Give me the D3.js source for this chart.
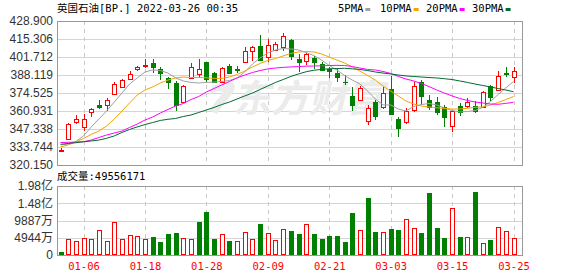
<!DOCTYPE html>
<html>
<head>
<meta charset="utf-8">
<script src="https://cdn.jsdelivr.net/npm/d3@7/dist/d3.min.js"></script>
<style>
  body { margin: 0; background: #fff; }
  svg { display: block; }
</style>
</head>
<body>
<div id="chart"></div>
<script>
// trading days shown on the chart
var dates = ["12-31","01-04","01-05","01-06","01-07","01-10","01-11","01-12","01-13","01-14",
             "01-17","01-18","01-19","01-20","01-21","01-24","01-25","01-26","01-27","01-28",
             "01-31","02-01","02-02","02-03","02-04","02-07","02-08","02-09","02-10","02-11",
             "02-14","02-15","02-16","02-17","02-18","02-21","02-22","02-23","02-24","02-25",
             "02-28","03-01","03-02","03-03","03-04","03-07","03-08","03-09","03-10","03-11",
             "03-14","03-15","03-16","03-17","03-18","03-21","03-22","03-23","03-24","03-25"];

var opens  = [331.1,339.8,352.6,349.1,359.9,365.2,365.2,373.5,379.3,384.9,
              392.4,395.1,397.0,392.4,385.6,382.1,368.0,386.1,388.6,397.9,
              389.3,383.1,395.1,392.7,397.9,406.5,410.0,401.7,407.0,409.6,
              414.6,400.2,398.7,401.3,396.2,392.3,389.3,383.2,372.3,368.9,
              353.4,368.0,363.6,377.5,354.9,352.9,361.7,383.2,369.2,367.5,
              364.0,349.4,364.7,364.7,364.7,363.7,379.8,376.8,389.3,386.4];
var highs  = [332.8,351.6,357.9,358.4,363.0,369.0,371.0,383.1,384.9,391.1,
              395.1,400.2,400.2,394.4,386.8,383.6,380.2,397.4,400.0,398.2,
              390.6,393.9,396.2,395.1,409.5,410.0,418.3,415.3,413.0,419.6,
              415.3,404.0,404.7,402.7,397.9,394.4,393.2,388.1,378.7,379.8,
              365.8,369.2,379.3,387.4,356.6,362.9,383.1,384.3,373.0,371.7,
              365.5,361.7,367.2,370.5,368.5,376.0,380.6,391.1,393.9,393.9];
var lows   = [329.7,339.0,351.1,345.8,356.6,362.2,360.9,373.0,378.8,384.3,
              391.1,393.2,389.4,384.3,377.3,360.9,367.7,385.6,385.6,383.1,
              382.3,382.6,389.4,389.4,397.6,398.7,398.7,397.6,406.2,406.6,
              399.1,390.4,395.7,392.7,391.5,385.6,383.1,380.6,361.3,368.5,
              350.0,354.1,362.8,358.7,341.5,351.1,360.4,365.5,361.7,357.9,
              349.1,344.7,357.4,362.9,359.2,363.2,368.5,375.7,386.8,382.1];
var closes = [331.6,351.1,354.7,355.0,362.2,363.7,369.0,381.6,384.1,388.6,
              394.2,395.7,393.9,389.4,383.1,365.1,379.8,393.9,392.4,385.1,
              383.1,393.2,389.9,391.9,405.9,409.3,399.8,410.8,411.5,417.2,
              402.5,397.6,404.2,398.3,391.9,391.5,386.8,382.8,365.5,378.3,
              363.0,357.2,374.3,358.9,348.3,361.2,379.8,372.3,363.6,360.4,
              356.6,360.9,360.2,368.0,361.1,375.1,371.7,387.7,388.7,391.4];
var closeBefore = 333.0;   // close of the day before the first bar (volume colour)

var volumes = [8600000,46600000,39000000,49500000,46600000,70400000,39000000,96000000,46600000,58000000,
               55200000,46600000,50400000,37100000,59000000,61800000,49500000,46600000,94100000,122700000,
               44700000,60900000,40000000,39000000,64700000,46600000,88400000,61800000,43700000,73200000,
               67500000,59000000,87500000,59000000,44700000,53300000,53300000,36100000,121700000,72300000,
               164500000,64700000,64700000,73200000,70400000,103700000,78000000,61800000,178800000,76100000,
               47600000,135000000,50400000,52300000,181600000,35200000,41800000,80800000,67500000,49556171];

var ma5  = [335.3,336.0,337.9,342.1,348.9,354.9,360.9,367.7,374.5,381.3,
            385.9,390.4,391.9,391.5,389.6,385.9,383.6,382.5,382.1,382.5,
            382.8,383.2,384.0,385.9,390.4,396.4,401.0,404.7,407.0,408.1,
            407.8,407.0,405.1,402.8,399.4,395.3,391.9,387.7,384.3,381.3,
            376.0,370.0,365.5,365.5,362.4,360.9,364.3,365.8,366.6,365.5,
            363.2,361.3,360.2,360.6,361.3,363.6,368.1,373.4,378.3,383.2];
var ma10 = [333.7,335.3,337.5,340.2,343.2,345.8,349.6,354.9,360.9,367.0,
            373.0,376.8,379.1,382.1,384.3,385.9,386.6,386.2,386.2,386.0,
            385.6,385.5,386.6,388.5,391.1,394.2,396.8,399.1,400.6,402.5,
            404.4,405.5,405.9,405.5,404.0,401.7,399.4,397.2,394.2,391.1,
            387.7,384.3,379.8,376.0,372.3,368.5,366.2,364.7,364.0,363.4,
            362.8,362.4,362.4,363.0,363.7,364.0,365.5,367.4,369.6,371.9];
var ma20 = [337.1,337.3,337.4,337.7,339.0,340.9,342.8,344.3,345.8,348.5,
            351.1,354.1,356.4,359.4,362.1,364.7,366.6,369.6,371.9,375.3,
            377.9,380.6,383.2,385.9,388.1,390.0,391.5,392.7,393.4,393.9,
            394.2,394.5,394.8,394.9,395.1,395.3,395.4,395.3,394.5,393.4,
            392.3,391.9,390.8,389.3,387.0,385.1,383.6,381.7,379.4,376.8,
            374.5,372.3,370.4,368.9,367.7,367.0,366.2,366.0,366.7,367.5];
var ma30 = [335.8,336.4,337.0,337.7,338.3,339.0,340.3,342.1,344.7,347.0,
            348.9,350.7,352.2,353.8,354.7,355.3,356.8,357.9,359.8,361.7,
            363.6,365.8,367.7,370.0,372.3,374.5,377.2,379.8,382.5,384.7,
            387.0,388.9,390.6,391.7,392.4,392.8,393.0,393.2,392.8,392.3,
            391.5,390.4,389.6,388.9,388.1,387.4,387.0,386.6,386.2,385.9,
            385.3,384.7,383.6,382.5,381.3,380.2,379.1,377.9,376.8,375.5];

var priceTicks = ["320.150","333.744","347.338","360.931","374.525","388.119","401.712","415.306","428.900"];
var volTicks = [0, 49440000, 98870000, 148300000, 197750000];
var volTickLabels = ["0","4944万","9887万","1.48亿","1.98亿"];
var xTickDates = ["01-06","01-18","01-28","02-09","02-21","03-03","03-15","03-25"];

var maNames  = ["5PMA","10PMA","20PMA","30PMA"];
var maColors = ["#a0a0a0","#f4a300","#ff00ff","#006b33"];

var title = "英国石油[BP.] 2022-03-26 00:35";

var width = 578, height = 276;
var left = 57, right = 522;
var priceTop = 21, priceBottom = 165;
var volTop = 186, volBottom = 255;
var red = "#ff0000", green = "#008000";
var monoFont = "'DejaVu Sans Mono','Noto Sans CJK SC',monospace";
var sansFont = "Arial,'Liberation Sans','Noto Sans CJK SC',sans-serif";

var svg = d3.select("#chart").append("svg")
    .attr("width", width)
    .attr("height", height);

var x = d3.scalePoint().domain(dates).range([60.5, 513.5]);
var y = d3.scaleLinear().domain([+priceTicks[0], +priceTicks[priceTicks.length - 1]]).range([priceBottom, priceTop]);
var yv = d3.scaleLinear().domain([0, volTicks[volTicks.length - 1]]).range([volBottom, volTop]);

function px(v) { return Math.round(v) + 0.5; }

// ---- grids ----
function drawGrid(g, ticks, scale, top, bottom) {
    g.selectAll("line.h").data(ticks).enter().append("line")
        .attr("x1", left).attr("x2", right)
        .attr("y1", function(d) { return px(scale(d)); })
        .attr("y2", function(d) { return px(scale(d)); })
        .attr("stroke", "#d4d4d4");
    g.selectAll("line.v").data(xTickDates).enter().append("line")
        .attr("x1", function(d) { return px(x(d)); })
        .attr("x2", function(d) { return px(x(d)); })
        .attr("y1", top).attr("y2", bottom)
        .attr("stroke", "#c8c8c8")
        .attr("stroke-dasharray", "4,4");
}
drawGrid(svg.append("g"), priceTicks.map(Number), y, priceTop, priceBottom);
drawGrid(svg.append("g"), volTicks, yv, volTop, volBottom);

// watermark
var wm = svg.append("g").attr("transform", "translate(203,112) skewX(-12)");
wm.append("path")
    .attr("d", "M4,-26 C18,-34 30,-30 26,-20 L14,2 L6,-2 L16,-20 C10,-22 6,-20 2,-16 Z")
    .attr("fill", "#ebebeb");
wm.append("text")
    .attr("x", 30).attr("y", 0)
    .attr("font-family", "'Noto Sans CJK SC',sans-serif")
    .attr("font-weight", "bold")
    .attr("font-size", 38)
    .attr("fill", "#ebebeb")
    .text("东方财富");

// ---- candles ----
var candles = svg.append("g");
dates.forEach(function(d, i) {
    var c = Math.round(x(d));
    var up = closes[i] >= opens[i];
    var col = up ? red : green;
    candles.append("line")
        .attr("x1", c + 0.5).attr("x2", c + 0.5)
        .attr("y1", Math.round(y(highs[i]))).attr("y2", Math.round(y(lows[i])))
        .attr("stroke", col);
    var top = Math.round(y(Math.max(opens[i], closes[i])));
    var bot = Math.round(y(Math.min(opens[i], closes[i])));
    if (bot - top < 1) {
        candles.append("line")
            .attr("x1", c - 2).attr("x2", c + 3)
            .attr("y1", top + 0.5).attr("y2", top + 0.5)
            .attr("stroke", col);
    } else if (up) {
        candles.append("rect")
            .attr("x", c - 1.5).attr("y", top + 0.5)
            .attr("width", 4).attr("height", bot - top)
            .attr("fill", "#fff").attr("stroke", red);
    } else {
        candles.append("rect")
            .attr("x", c - 2).attr("y", top)
            .attr("width", 5).attr("height", bot - top + 1)
            .attr("fill", green);
    }
});

// ---- moving averages ----
var maSeries = [ma5, ma10, ma20, ma30];
var line = d3.line()
    .x(function(d, i) { return x(dates[i]); })
    .y(function(d) { return y(d); });
maSeries.forEach(function(s, k) {
    svg.append("path")
        .datum(s)
        .attr("d", line)
        .attr("fill", "none")
        .attr("stroke", maColors[k])
        .attr("stroke-width", 1);
});

// ---- volume bars ----
var vol = svg.append("g");
dates.forEach(function(d, i) {
    var c = Math.round(x(d));
    var prev = i == 0 ? closeBefore : closes[i - 1];
    var up = closes[i] >= prev;
    var top = Math.round(yv(volumes[i]));
    if (up) {
        vol.append("rect")
            .attr("x", c - 1.5).attr("y", top + 0.5)
            .attr("width", 4).attr("height", volBottom - top - 1)
            .attr("fill", "#fff").attr("stroke", red);
    } else {
        vol.append("rect")
            .attr("x", c - 2).attr("y", top)
            .attr("width", 5).attr("height", volBottom - top)
            .attr("fill", green);
    }
});

// ---- frames ----
svg.append("rect").attr("x", left + 0.5).attr("y", priceTop + 0.5)
    .attr("width", right - left).attr("height", priceBottom - priceTop)
    .attr("fill", "none").attr("stroke", "#999");
svg.append("rect").attr("x", left + 0.5).attr("y", volTop + 0.5)
    .attr("width", right - left).attr("height", volBottom - volTop)
    .attr("fill", "none").attr("stroke", "#999");

// ---- axis labels ----
svg.append("g").selectAll("text").data(priceTicks).enter().append("text")
    .attr("x", 53)
    .attr("y", function(d) { return y(+d); })
    .attr("dy", "0.36em")
    .attr("text-anchor", "end")
    .attr("font-family", sansFont)
    .attr("font-size", 12)
    .attr("fill", "#333")
    .text(function(d) { return d; });

svg.append("g").selectAll("text").data(volTicks).enter().append("text")
    .attr("x", 53)
    .attr("y", function(d) { return yv(d); })
    .attr("dy", "0.36em")
    .attr("text-anchor", "end")
    .attr("font-family", sansFont)
    .attr("font-size", 12)
    .attr("fill", "#333")
    .text(function(d, i) { return volTickLabels[i]; });

svg.append("g").selectAll("text").data(xTickDates).enter().append("text")
    .attr("x", function(d) { return x(d) + 0.5; })
    .attr("y", 270)
    .attr("text-anchor", "middle")
    .attr("font-family", monoFont)
    .attr("font-size", 10.5)
    .attr("fill", red)
    .text(function(d) { return d; });

// ---- title, legend, volume caption ----
svg.append("text")
    .attr("x", 57).attr("y", 12)
    .attr("font-family", monoFont)
    .attr("font-size", 10.5)
    .attr("fill", "#000")
    .text(title);

svg.append("text")
    .attr("x", 57).attr("y", 180)
    .attr("font-family", monoFont)
    .attr("font-size", 10.5)
    .attr("fill", "#000")
    .text("成交量:" + volumes[volumes.length - 1]);

var legendX = [338, 380, 426, 472];
var legend = svg.append("g");
maNames.forEach(function(name, k) {
    var t = legend.append("text")
        .attr("x", legendX[k]).attr("y", 12)
        .attr("font-family", monoFont)
        .attr("font-size", 10.5)
        .attr("fill", "#000")
        .text(name);
    var w = t.node().getComputedTextLength();
    legend.append("rect")
        .attr("x", legendX[k] + w + 2).attr("y", 8)
        .attr("width", 5).attr("height", 3)
        .attr("fill", maColors[k]);
});
</script>
</body>
</html>
